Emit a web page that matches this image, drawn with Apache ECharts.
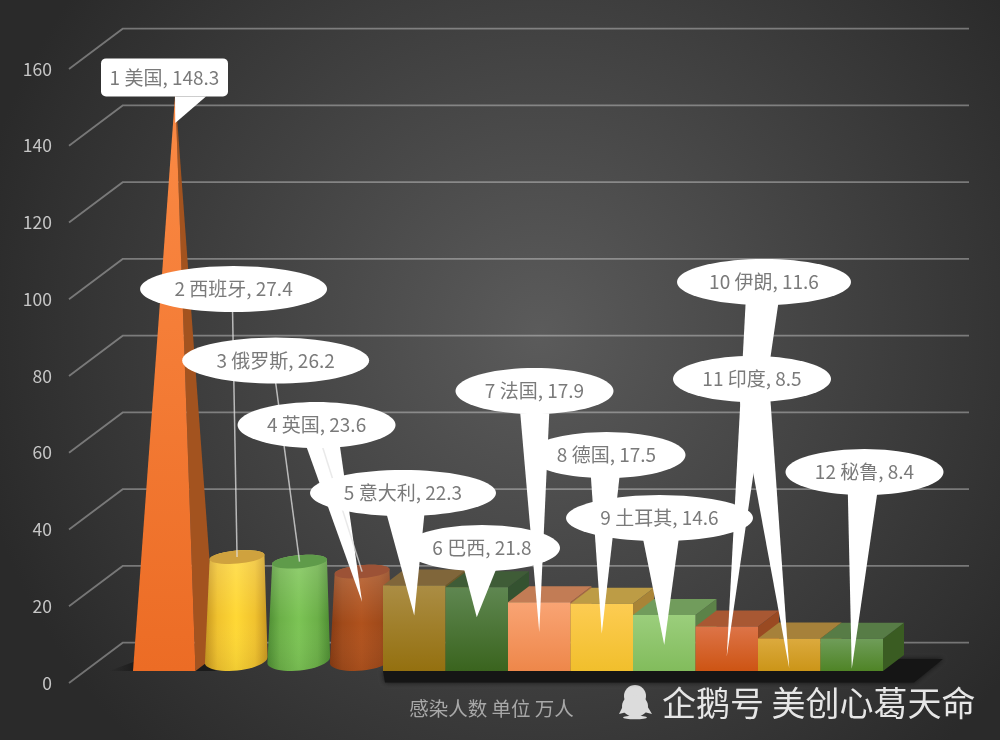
<!DOCTYPE html>
<html><head><meta charset="utf-8">
<style>html,body{margin:0;padding:0;background:#333}#c{width:1000px;height:740px}</style>
<script src="https://cdn.jsdelivr.net/npm/echarts@6/dist/echarts.min.js"></script>
</head><body><div id="c"></div>
<script>
// ---- data ----
const categories = ['美国','西班牙','俄罗斯','英国','意大利','巴西','法国','德国','土耳其','伊朗','印度','秘鲁'];
const values = [148.3,27.4,26.2,23.6,22.3,21.8,17.9,17.5,14.6,11.6,8.5,8.4];
const yTicks = [0,20,40,60,80,100,120,140,160];
const axisTitle = '感染人数 单位 万人';
const watermark = '企鹅号 美创心葛天命';

// ---- style and layout ----
const FONT = '"Noto Sans CJK SC","Noto Sans",sans-serif';
const DEPTH = [21,-16];          // oblique depth of a bar
const FLOOR = -12;               // bar base above axis zero
const shapes = ['pyramid','cylinder','cylinder','cylinder','box','box','box','box','box','box','box','box'];
// pyramid / cylinder colours: edge, centre, top
const round = {
  0:{front:['#fb8a45','#ec6c25'],side:'#a3531f'},
  1:{edge:'#c6951f',soft:'#f0c22e',mid:'#ffd835',top:'#cfa23e'},
  2:{edge:'#4d8c32',soft:'#6cb048',mid:'#7cc455',top:'#5f9b4a'},
  3:{edge:'#863a12',soft:'#a04a1a',mid:'#b0521d',top:'#9c5236'}
};
// box colours: front top, front bottom, top face, side face
const boxColors = {
  4:['#ab8d44','#94700f','#80663a','#6e5a26'],
  5:['#5f8751','#3a641e','#3f5c37','#345230'],
  6:['#f9a474','#ee874a','#c27c55','#a86a42'],
  7:['#fdcc52','#f1bf2c','#bd9c45','#a98437'],
  8:['#9bce7c','#82bc5c','#719c5c','#5c8248'],
  9:['#dd7448','#cd5413','#a85833','#9a4a22'],
  10:['#dcaa3e','#cb9518','#a6813a','#8e6e2a'],
  11:['#6f9d59','#4f8426','#577c46','#3a5c22']
};
// callouts, relative to the tip below each bar's top: centre dx, dy, half width, tail base dx1, dx2, dy
const callouts = [
  [-10.75,-45.7,63.5,-0.25,30.75,-26.7],
  [-3.5,-298,93.5],
  [-23.9,-231.1,93.5],
  [-45.5,-176.6,79,-58,-23,-161.6],
  [-11.25,-122.4,93,-30,11,-110],
  [5.25,-69.3,78,-15,23,-57],
  [-4.75,-241.3,79,-19,10,-219],
  [4.75,-178.8,79,-11,18,-159],
  [-4.75,-126.9,93.5,-22,15,-110],
  [37.25,-374.5,87,19,52,-356],
  [-37.25,-289.4,79,-50,-19,-271],
  [12.75,-196.7,79,-4,26,-179]
];
const leaderStart = {1:-1,2:0,3:6};
const ELLIPSE_RY = 23;

function ell(cx,cy,rx,ry,rotDeg,a0,a1,n){
  const r=rotDeg*Math.PI/180, pts=[];
  for(let k=0;k<=n;k++){
    const t=(a0+(a1-a0)*k/n)*Math.PI/180;
    pts.push([cx+rx*Math.cos(t)*Math.cos(r)-ry*Math.sin(t)*Math.sin(r),
              cy+rx*Math.cos(t)*Math.sin(r)+ry*Math.sin(t)*Math.cos(r)]);
  }
  return pts;
}
const vgrad=(a,b)=>({type:'linear',x:0,y:0,x2:0,y2:1,colorStops:[{offset:0,color:a},{offset:1,color:b}]});
const poly=(points,fill,extra)=>({type:'polygon',shape:{points},style:Object.assign({fill},extra||{}),silent:true});

function geom(api,i,v){
  const p=api.coord([i,v]), b=api.coord([i,0]), band=api.size([1,0])[0];
  return {cx:p[0],top:p[1]+FLOOR,base:b[1]+FLOOR,l:p[0]-band/2,r:p[0]+band/2,band};
}
function anchor(api,i,v){
  const g=geom(api,i,v), s=shapes[i];
  if(s==='box') return [g.cx,g.top];
  return [g.cx+(s==='pyramid'?11:10.3),g.top-8.8];
}

function renderGrid(params,api){
  const y=api.coord([0,api.value(1)])[1], x0=api.coord([0,0])[0]-api.size([1,0])[0]/2;
  const fx=x0-64, bx=x0-10.3, by=y-40.3;
  return {type:'polyline',silent:true,shape:{points:[[fx,y],[bx,by],[969,by]]},
    style:{fill:null,stroke:'rgba(255,255,255,0.34)',lineWidth:1.8}};
}
function renderFloor(params,api){
  const a=geom(api,0,0), z=geom(api,4,0), e=geom(api,11,0);
  return {type:'group',children:[
    poly([[a.l-24,a.base],[a.l+3,a.base],[a.l+3,a.base-10]],
      {type:'linear',x:0,y:0,x2:1,y2:0,colorStops:[{offset:0,color:'rgba(15,15,15,0)'},{offset:1,color:'rgba(15,15,15,0.6)'}]}),
    poly([[a.r-3,a.base],[a.r+20,a.base],[a.r+20,a.base-10],[a.r+6,a.base-8]],'#1b1b1b'),
    poly([[z.l+2,z.base+11.5],[e.r+31,z.base+11.5],[e.r+60,z.base-12],[e.r-2,z.base-12],[e.r-2,z.base],[z.l,z.base]],'#151515',
      {shadowBlur:5,shadowColor:'rgba(10,10,10,0.8)'})
  ]};
}
function renderBar(params,api){
  const i=api.value(0), v=api.value(1), g=geom(api,i,v), s=shapes[i];
  const [dx,dy]=DEPTH;
  if(s==='box'){
    const c=boxColors[i];
    return {type:'group',children:[
      poly([[g.r,g.top],[g.r+dx,g.top+dy],[g.r+dx,g.base+dy],[g.r,g.base]],c[3]),
      poly([[g.l,g.top],[g.r,g.top],[g.r+dx,g.top+dy],[g.l+dx,g.top+dy]],c[2]),
      poly([[g.l,g.top],[g.r,g.top],[g.r,g.base],[g.l,g.base]],vgrad(c[0],c[1]))
    ]};
  }
  if(s==='pyramid'){
    const c=round[i], ax=anchor(api,i,v);
    return {type:'group',children:[
      poly([[g.r,g.base],[g.r+dx,g.base+dy],ax],c.side),
      poly([[g.l,g.base],[g.r,g.base],ax],vgrad(c.front[0],c.front[1]))
    ]};
  }
  const c=round[i], bc=[g.cx+9.5,g.base-11], tc=[g.cx+10.3,g.top-8.8];
  const body=ell(bc[0],bc[1],31.5,10.5,-6,0,180,24).concat(ell(tc[0],tc[1],27.5,6.5,-5,180,360,24));
  const hg={type:'linear',x:0,y:0,x2:1,y2:0,colorStops:[{offset:0,color:c.edge},{offset:0.2,color:c.soft},{offset:0.5,color:c.mid},{offset:0.8,color:c.soft},{offset:1,color:c.edge}]};
  return {type:'group',children:[
    poly(body,hg),
    poly(body,{type:'linear',x:0,y:0,x2:0,y2:1,colorStops:[{offset:0,color:'rgba(255,255,255,0.18)'},{offset:0.55,color:'rgba(255,255,255,0)'},{offset:1,color:'rgba(0,0,0,0.06)'}]}),
    poly(ell(tc[0],tc[1],27.5,6.5,-5,0,360,40),c.top)
  ]};
}
function renderCallout(params,api){
  const i=api.value(0), v=api.value(1), a=anchor(api,i,v), tip=[a[0],a[1]+30], c=callouts[i];
  const cx=tip[0]+c[0], cy=tip[1]+c[1], kids=[];
  if(c.length>3){
    kids.push(poly([[tip[0]+c[3],tip[1]+c[5]],[tip[0]+c[4],tip[1]+c[5]],tip],'#fff'));
  }
  if(leaderStart[i]!==undefined){
    kids.push({type:'line',silent:true,shape:{x1:cx+leaderStart[i],y1:cy+ELLIPSE_RY-1,x2:a[0],y2:a[1]},
      style:{stroke:'rgba(225,225,225,0.75)',lineWidth:1.5}});
  }
  if(i===0){
    kids.push({type:'rect',silent:true,shape:{x:cx-c[2],y:cy-19,width:c[2]*2,height:38,r:5},style:{fill:'#fff'}});
  }else{
    kids.push(poly(ell(cx,cy,c[2],ELLIPSE_RY,0,0,360,72),'#fff'));
  }
  return {type:'group',children:kids};
}
function renderCalloutText(params,api){
  const i=api.value(0), v=api.value(1), a=anchor(api,i,v), c=callouts[i];
  return {type:'text',silent:true,style:{text:(i+1)+' '+categories[i]+', '+v,
    x:a[0]+c[0],y:a[1]+30+c[1],textAlign:'center',verticalAlign:'middle',textVerticalAlign:'middle',
    fill:'#7a7a7a',font:'19px '+FONT}};
}
const barData=values.map((v,i)=>[i,v]);
const enc={x:0,y:1};
const option={
  animation:false,
  backgroundColor:{type:'radial',x:0.54,y:0.45,r:0.78,colorStops:[{offset:0,color:'#5b5b5b'},{offset:1,color:'#2a2a2a'}]},
  grid:{left:133,width:750,top:69,height:614,containLabel:false},
  xAxis:{type:'category',data:categories,axisLine:{show:false},axisTick:{show:false},axisLabel:{show:false},
    name:axisTitle,nameLocation:'middle',nameGap:16,
    nameTextStyle:{color:'#a8a8a8',fontSize:19.5,fontFamily:FONT,padding:[0,33,0,0]}},
  yAxis:{type:'value',min:0,max:160,interval:20,axisLine:{show:false},axisTick:{show:false},splitLine:{show:false},
    axisLabel:{color:'#c6c6c6',fontSize:17.5,fontFamily:FONT,margin:81,padding:[0,0,1,0]}},
  series:[
    {type:'custom',name:'grid',renderItem:renderGrid,data:yTicks.map(t=>[0,t]),encode:enc,silent:true,z:1},
    {type:'custom',name:'floor',renderItem:renderFloor,data:[[0,0]],encode:enc,silent:true,z:2},
    {type:'custom',name:'感染人数',renderItem:renderBar,data:barData,encode:enc,silent:true,z:3},
    {type:'custom',name:'callouts',renderItem:renderCallout,data:barData,encode:enc,silent:true,z:4},
    {type:'custom',name:'calloutText',renderItem:renderCalloutText,data:barData,encode:enc,silent:true,z:5}
  ],
  graphic:[
    {type:'group',left:619,top:685,silent:true,children:[
      {type:'circle',shape:{cx:16,cy:11,r:11},style:{fill:'#dcdcdc'}},
      {type:'ellipse',shape:{cx:16,cy:21,rx:13,ry:11},style:{fill:'#dcdcdc'}},
      {type:'polygon',shape:{points:[[5,19],[0,29],[8,27]]},style:{fill:'#dcdcdc'}},
      {type:'polygon',shape:{points:[[27,19],[33,29],[25,27]]},style:{fill:'#dcdcdc'}},
      {type:'ellipse',shape:{cx:16,cy:32.5,rx:12,ry:1.8},style:{fill:'#dcdcdc'}}
    ]},
    {type:'text',left:662,top:686,silent:true,style:{text:watermark,fill:'#e6e6e6',font:'34px '+FONT}}
  ]
};
const chart=echarts.init(document.getElementById('c'),null,{renderer:'canvas'});
chart.setOption(option);
</script></body></html>
